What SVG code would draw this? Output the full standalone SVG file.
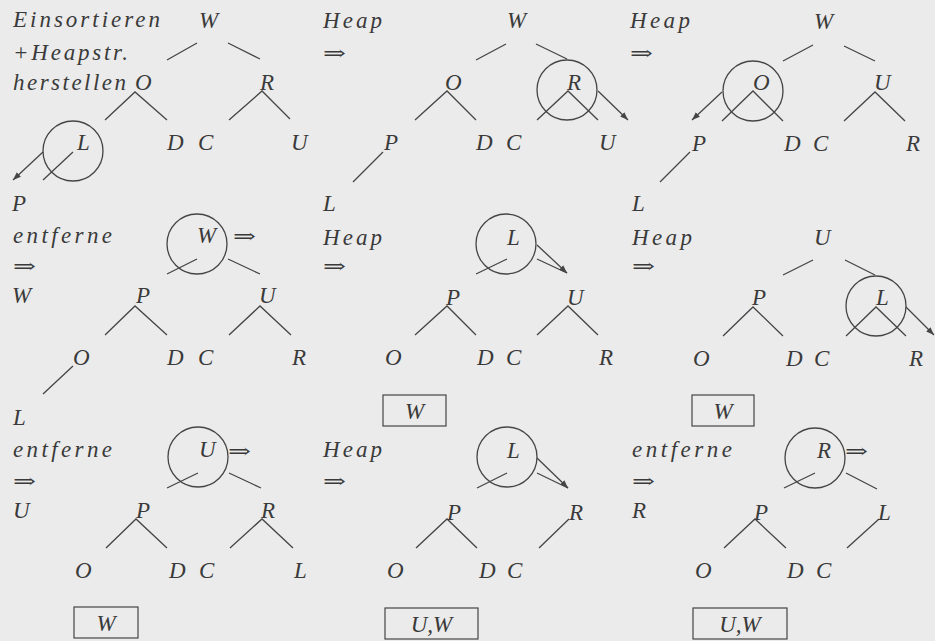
<svg xmlns="http://www.w3.org/2000/svg" width="935" height="641" viewBox="0 0 935 641">
<defs>
<style>
.t{font-family:"Liberation Serif",serif;font-style:italic;font-size:23px;fill:#3a3a3a}
.a{font-family:"DejaVu Serif",serif;font-size:20px;fill:#3a3a3a}
.e{stroke:#454545;stroke-width:1.3;fill:none}
.c{stroke:#454545;stroke-width:1.3;fill:none}
.b{stroke:#454545;stroke-width:1.2;fill:none}
.ar{stroke:#454545;stroke-width:1.3;fill:none;marker-end:url(#ah)}
</style>
<marker id="ah" markerUnits="userSpaceOnUse" markerWidth="9" markerHeight="7" refX="8" refY="3.5" orient="auto">
<path d="M0,0.5 L8,3.5 L0,6.5 z" fill="#454545"/>
</marker>
</defs>
<rect width="935" height="641" fill="#ebebeb"/>

<g id="connectors">
<path class="e" d="M167,60 L197,43 M228,43 L260,59 M105,120 L135,92 L167,120 M229,120 L262,91 L290,119 M73,152 L43,180"/>
<path class="ar" d="M43,152 L13,180"/>
<circle class="c" cx="73" cy="151" r="30"/>
<path class="e" d="M476,60 L506,44 M536,44 L567,59 M415,120 L447,91 L476,120 M537,120 L568,91 L598,120 M353,182 L383,152"/>
<path class="ar" d="M598,91 L628,120"/>
<circle class="c" cx="567" cy="90" r="30"/>
<path class="e" d="M783,61 L813,45 M844,46 L875,61 M722,121 L753,91 L783,121 M844,121 L875,92 L905,121 M660,182 L690,152"/>
<path class="ar" d="M722,92 L692,120"/>
<circle class="c" cx="753" cy="91" r="30"/>
<path class="e" d="M167,274 L197,259 M228,259 L260,274 M105,335 L135,306 L167,335 M229,335 L260,306 L291,335 M43,394 L73,366"/>
<circle class="c" cx="197" cy="244" r="30"/>
<path class="e" d="M476,274 L507,259 M537,259 L567,273 M415,335 L447,306 L476,335 M537,335 L568,306 L598,335"/>
<path class="ar" d="M537,245 L567,273"/>
<circle class="c" cx="506" cy="244" r="30"/>
<rect class="b" x="383" y="395" width="63" height="31"/>
<path class="e" d="M783,275 L813,260 M845,260 L875,275 M723,336 L753,307 L783,336 M846,336 L876,307 L906,336"/>
<path class="ar" d="M906,307 L934,335"/>
<circle class="c" cx="876" cy="306" r="30"/>
<rect class="b" x="692" y="395" width="62" height="31"/>
<path class="e" d="M167,488 L198,473 M229,473 L261,488 M106,548 L136,519 L167,548 M230,548 L262,519 L293,548"/>
<circle class="c" cx="198" cy="457" r="30"/>
<rect class="b" x="74" y="607" width="64" height="31"/>
<path class="e" d="M477,488 L507,473 M537,473 L568,488 M416,548 L447,519 L477,548 M539,548 L569,519"/>
<path class="ar" d="M537,458 L568,488"/>
<circle class="c" cx="507" cy="457" r="30"/>
<rect class="b" x="385" y="608" width="93" height="31"/>
<path class="e" d="M784,488 L815,473 M846,473 L877,489 M724,548 L755,519 L786,548 M847,548 L879,519"/>
<circle class="c" cx="815" cy="458" r="30"/>
<rect class="b" x="693" y="608" width="94" height="31"/>
</g>

<g id="panel1">
<text class="t" x="13" y="27" textLength="147" lengthAdjust="spacing">Einsortieren</text>
<text class="t" x="13" y="60" textLength="115" lengthAdjust="spacing">+Heapstr.</text>
<text class="t" x="13" y="90" textLength="113" lengthAdjust="spacing">herstellen</text>
<g id="p1-W"><text class="t" x="199" y="28">W</text></g>
<g id="p1-O"><text class="t" x="135" y="90">O</text></g>
<g id="p1-R"><text class="t" x="260" y="90">R</text></g>
<g id="p1-L"><text class="t" x="77" y="150">L</text></g>
<g id="p1-D"><text class="t" x="167" y="150">D</text></g>
<g id="p1-C"><text class="t" x="198" y="150">C</text></g>
<g id="p1-U"><text class="t" x="291" y="150">U</text></g>
<g id="p1-P"><text class="t" x="12" y="211">P</text></g>
</g>

<g id="panel2">
<text class="t" x="323" y="28" textLength="59" lengthAdjust="spacing">Heap</text>
<text class="a" x="323" y="60" textLength="23" lengthAdjust="spacingAndGlyphs">⇒</text>
<g id="p2-W"><text class="t" x="507" y="28">W</text></g>
<g id="p2-O"><text class="t" x="445" y="90">O</text></g>
<g id="p2-R"><text class="t" x="567" y="90">R</text></g>
<g id="p2-P"><text class="t" x="384" y="150">P</text></g>
<g id="p2-D"><text class="t" x="476" y="150">D</text></g>
<g id="p2-C"><text class="t" x="506" y="150">C</text></g>
<g id="p2-U"><text class="t" x="599" y="150">U</text></g>
<g id="p2-L"><text class="t" x="323" y="211">L</text></g>
</g>

<g id="panel3">
<text class="t" x="630" y="28" textLength="60" lengthAdjust="spacing">Heap</text>
<text class="a" x="630" y="60" textLength="23" lengthAdjust="spacingAndGlyphs">⇒</text>
<g id="p3-W"><text class="t" x="814" y="29">W</text></g>
<g id="p3-O"><text class="t" x="753" y="90">O</text></g>
<g id="p3-U"><text class="t" x="874" y="90">U</text></g>
<g id="p3-P"><text class="t" x="692" y="151">P</text></g>
<g id="p3-D"><text class="t" x="784" y="151">D</text></g>
<g id="p3-C"><text class="t" x="813" y="151">C</text></g>
<g id="p3-R"><text class="t" x="906" y="151">R</text></g>
<g id="p3-L"><text class="t" x="632" y="211">L</text></g>
</g>

<g id="panel4">
<text class="t" x="13" y="243" textLength="99" lengthAdjust="spacing">entferne</text>
<text class="a" x="13" y="273" textLength="23" lengthAdjust="spacingAndGlyphs">⇒</text>
<text class="t" x="12" y="303">W</text>
<g id="p4-W"><text class="t" x="197" y="243">W</text></g>
<text class="a" x="233" y="243" textLength="23" lengthAdjust="spacingAndGlyphs">⇒</text>
<g id="p4-P"><text class="t" x="136" y="303">P</text></g>
<g id="p4-U"><text class="t" x="259" y="303">U</text></g>
<g id="p4-O"><text class="t" x="73" y="365">O</text></g>
<g id="p4-D"><text class="t" x="167" y="365">D</text></g>
<g id="p4-C"><text class="t" x="198" y="365">C</text></g>
<g id="p4-R"><text class="t" x="292" y="365">R</text></g>
<g id="p4-L"><text class="t" x="13" y="425">L</text></g>
</g>

<g id="panel5">
<text class="t" x="323" y="245" textLength="59" lengthAdjust="spacing">Heap</text>
<text class="a" x="323" y="273" textLength="23" lengthAdjust="spacingAndGlyphs">⇒</text>
<g id="p5-L"><text class="t" x="507" y="245">L</text></g>
<g id="p5-P"><text class="t" x="446" y="305">P</text></g>
<g id="p5-U"><text class="t" x="567" y="305">U</text></g>
<g id="p5-O"><text class="t" x="385" y="365">O</text></g>
<g id="p5-D"><text class="t" x="477" y="365">D</text></g>
<g id="p5-C"><text class="t" x="506" y="365">C</text></g>
<g id="p5-R"><text class="t" x="599" y="365">R</text></g>
<g id="p5-box"><text class="t" x="414.5" y="419" text-anchor="middle">W</text></g>
</g>

<g id="panel6">
<text class="t" x="632" y="245" textLength="60" lengthAdjust="spacing">Heap</text>
<text class="a" x="632" y="273" textLength="23" lengthAdjust="spacingAndGlyphs">⇒</text>
<g id="p6-U"><text class="t" x="814" y="245">U</text></g>
<g id="p6-P"><text class="t" x="752" y="305">P</text></g>
<g id="p6-L"><text class="t" x="876" y="305">L</text></g>
<g id="p6-O"><text class="t" x="693" y="366">O</text></g>
<g id="p6-D"><text class="t" x="786" y="366">D</text></g>
<g id="p6-C"><text class="t" x="814" y="366">C</text></g>
<g id="p6-R"><text class="t" x="909" y="366">R</text></g>
<g id="p6-box"><text class="t" x="723" y="419" text-anchor="middle">W</text></g>
</g>

<g id="panel7">
<text class="t" x="13" y="457" textLength="99" lengthAdjust="spacing">entferne</text>
<text class="a" x="13" y="488" textLength="23" lengthAdjust="spacingAndGlyphs">⇒</text>
<text class="t" x="13" y="518">U</text>
<g id="p7-U"><text class="t" x="199" y="457">U</text></g>
<text class="a" x="228" y="458" textLength="23" lengthAdjust="spacingAndGlyphs">⇒</text>
<g id="p7-P"><text class="t" x="136" y="518">P</text></g>
<g id="p7-R"><text class="t" x="261" y="518">R</text></g>
<g id="p7-O"><text class="t" x="75" y="578">O</text></g>
<g id="p7-D"><text class="t" x="169" y="578">D</text></g>
<g id="p7-C"><text class="t" x="199" y="578">C</text></g>
<g id="p7-L"><text class="t" x="294" y="578">L</text></g>
<g id="p7-box"><text class="t" x="106" y="631" text-anchor="middle">W</text></g>
</g>

<g id="panel8">
<text class="t" x="323" y="457" textLength="59" lengthAdjust="spacing">Heap</text>
<text class="a" x="323" y="488" textLength="23" lengthAdjust="spacingAndGlyphs">⇒</text>
<g id="p8-L"><text class="t" x="507" y="458">L</text></g>
<g id="p8-P"><text class="t" x="447" y="520">P</text></g>
<g id="p8-R"><text class="t" x="569" y="520">R</text></g>
<g id="p8-O"><text class="t" x="387" y="578">O</text></g>
<g id="p8-D"><text class="t" x="479" y="578">D</text></g>
<g id="p8-C"><text class="t" x="507" y="578">C</text></g>
<g id="p8-box"><text class="t" x="431.5" y="632" text-anchor="middle">U,W</text></g>
</g>

<g id="panel9">
<text class="t" x="632" y="457" textLength="100" lengthAdjust="spacing">entferne</text>
<text class="a" x="632" y="488" textLength="23" lengthAdjust="spacingAndGlyphs">⇒</text>
<text class="t" x="632" y="518">R</text>
<g id="p9-R"><text class="t" x="817" y="458">R</text></g>
<text class="a" x="845" y="458" textLength="23" lengthAdjust="spacingAndGlyphs">⇒</text>
<g id="p9-P"><text class="t" x="754" y="520">P</text></g>
<g id="p9-L"><text class="t" x="878" y="520">L</text></g>
<g id="p9-O"><text class="t" x="695" y="578">O</text></g>
<g id="p9-D"><text class="t" x="787" y="578">D</text></g>
<g id="p9-C"><text class="t" x="816" y="578">C</text></g>
<g id="p9-box"><text class="t" x="740" y="632" text-anchor="middle">U,W</text></g>
</g>
</svg>
